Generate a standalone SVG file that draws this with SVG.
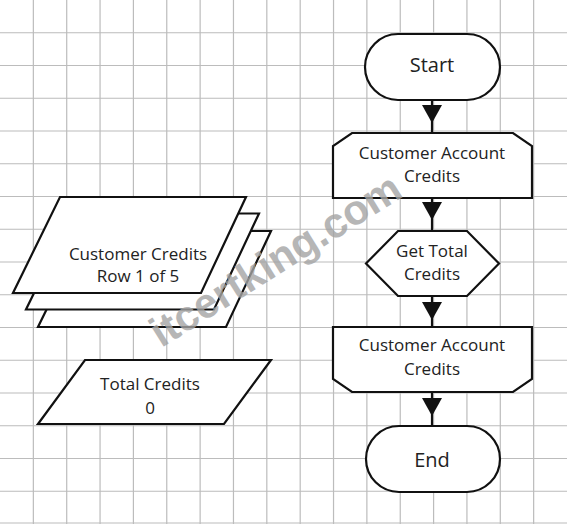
<svg xmlns="http://www.w3.org/2000/svg" width="567" height="524" viewBox="0 0 567 524">
<style>
.grid{stroke:#bcbcbc;stroke-width:1.2;fill:none}
.shape{fill:#fff;stroke:#111;stroke-width:2.2;stroke-linejoin:miter}
.lbl{font-family:"Open Sans","Noto Sans","Liberation Sans",sans-serif;font-size:17px;fill:#222;text-anchor:middle}
.big{font-size:20px}
.edge{stroke:#111;stroke-width:2.2;fill:none}
.head{fill:#111;stroke:none}
.wm{font-family:"Liberation Sans",Arial,sans-serif;font-weight:bold;font-size:42px;fill:#a4a4a4;opacity:0.8;text-anchor:middle}
</style>
<defs>
<path id="tri" d="M-10,0 L10,0 L0,18 Z"/>
<path id="card" d="M60,197 L246,197 L201,293 L13,293 Z"/>
</defs>
<rect width="567" height="524" fill="#fff"/>
<g id="grid">
<path class="grid" d="M33.35,0V524M66.71,0V524M100.06,0V524M133.41,0V524M166.76,0V524M200.12,0V524M233.47,0V524M266.82,0V524M300.18,0V524M333.53,0V524M366.88,0V524M400.24,0V524M433.59,0V524M466.94,0V524M500.29,0V524M533.65,0V524M0,32.75H567M0,65.5H567M0,98.25H567M0,131H567M0,163.75H567M0,196.5H567M0,229.25H567M0,262H567M0,294.75H567M0,327.5H567M0,360.25H567M0,393H567M0,425.75H567M0,458.5H567M0,491.25H567M0,523H567"/>
</g>
<g id="connectors">
<line class="edge" x1="432" y1="100" x2="432" y2="133"/>
<use href="#tri" class="head" transform="translate(432,105)"/>
<line class="edge" x1="432" y1="198" x2="432" y2="231"/>
<use href="#tri" class="head" transform="translate(432,202)"/>
<line class="edge" x1="432" y1="296" x2="432" y2="327"/>
<use href="#tri" class="head" transform="translate(432,302)"/>
<line class="edge" x1="432" y1="392" x2="432" y2="426"/>
<use href="#tri" class="head" transform="translate(432,398)"/>
</g>
<g id="start">
<rect class="shape" x="365" y="34" width="135" height="66" rx="33"/>
<text class="lbl big" x="432" y="72">Start</text>
</g>
<g id="loop-start">
<path class="shape" d="M352,133 L513,133 L532,146 L532,198 L333,198 L333,146 Z"/>
<text class="lbl" x="432" y="158.5">Customer Account</text>
<text class="lbl" x="432" y="182">Credits</text>
</g>
<g id="get-total">
<path class="shape" d="M398,231 L467,231 L499,263.5 L467,296 L398,296 L366,263.5 Z"/>
<text class="lbl" x="432" y="257">Get Total</text>
<text class="lbl" x="432" y="280">Credits</text>
</g>
<g id="loop-end">
<path class="shape" d="M333,327 L532,327 L532,379 L513,392 L352,392 L333,379 Z"/>
<text class="lbl" x="432" y="351">Customer Account</text>
<text class="lbl" x="432" y="374.5">Credits</text>
</g>
<g id="end">
<rect class="shape" x="366" y="426" width="134" height="66" rx="33"/>
<text class="lbl big" x="432" y="467">End</text>
</g>
<g id="customer-credits">
<use href="#card" class="shape" transform="translate(25,34)"/>
<use href="#card" class="shape" transform="translate(13,16.5)"/>
<use href="#card" class="shape"/>
<text class="lbl" x="138" y="259.5">Customer Credits</text>
<text class="lbl" x="138" y="282">Row 1 of 5</text>
</g>
<g id="total-credits">
<path class="shape" d="M85,360 L271,360 L224,424 L38,424 Z"/>
<text class="lbl" x="150" y="389.5">Total Credits</text>
<text class="lbl" x="150" y="413.5">0</text>
</g>
<text class="wm" x="283" y="272" transform="rotate(-32 283 272)">itcertking.com</text>
</svg>
